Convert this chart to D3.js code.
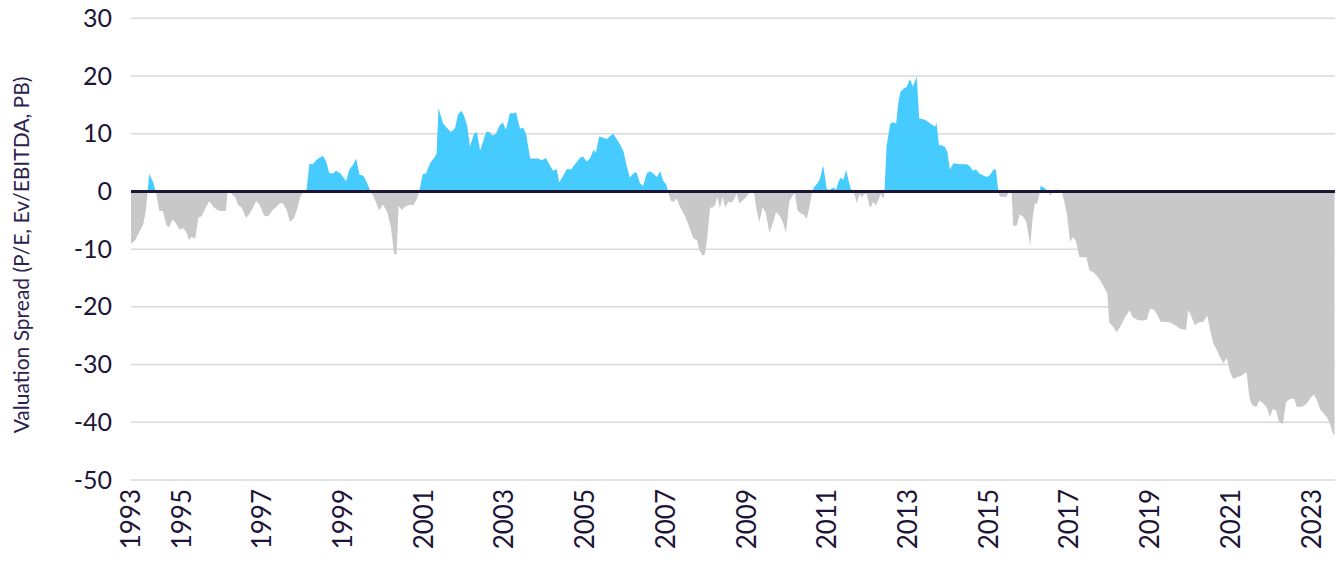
<!DOCTYPE html>
<html><head><meta charset="utf-8">
<script src="https://cdn.jsdelivr.net/npm/d3@7"></script>
<style>body{margin:0;background:#fff;}svg{display:block;}</style>
</head><body>
<svg id="chart" width="1344" height="563"></svg>
<script>
// Decimal years of each observation
const dates = [
1993.75,1993.85,1993.97,1994.05,1994.12,1994.20,1994.30,1994.37,1994.45,1994.54,1994.63,1994.70,1994.77,1994.84,1994.95,
1995.05,1995.13,1995.19,1995.25,1995.34,1995.42,1995.50,1995.61,1995.69,1995.79,1995.91,1996.00,1996.10,1996.14,1996.19,
1996.25,1996.33,1996.41,1996.49,1996.60,1996.70,1996.85,1996.93,1997.05,1997.15,1997.26,1997.34,1997.44,1997.52,1997.61,
1997.69,1997.79,1997.87,1997.94,1998.02,1998.10,1998.17,1998.25,1998.35,1998.50,1998.58,1998.66,1998.75,1998.83,1998.93,
1999.08,1999.16,1999.24,1999.33,1999.41,1999.51,1999.59,1999.69,1999.77,1999.90,1999.99,2000.10,2000.19,2000.27,2000.33,
2000.38,2000.46,2000.54,2000.66,2000.75,2000.83,2000.89,2000.98,2001.06,2001.16,2001.28,2001.32,2001.37,2001.48,2001.58,
2001.68,2001.78,2001.85,2001.93,2002.00,2002.08,2002.15,2002.25,2002.32,2002.40,2002.55,2002.63,2002.71,2002.79,2002.88,
2002.96,2003.04,2003.14,2003.21,2003.29,2003.39,2003.47,2003.54,2003.64,2003.72,2003.84,2003.93,2004.03,2004.13,2004.21,
2004.30,2004.36,2004.45,2004.55,2004.65,2004.75,2004.88,2004.96,2005.04,2005.12,2005.21,2005.27,2005.35,2005.45,2005.54,
2005.64,2005.70,2005.79,2005.87,2005.95,2006.03,2006.11,2006.21,2006.28,2006.36,2006.44,2006.53,2006.61,2006.69,2006.78,
2006.86,2006.94,2007.01,2007.06,2007.12,2007.20,2007.27,2007.35,2007.48,2007.58,2007.68,2007.77,2007.83,2007.92,2007.97,
2008.03,2008.10,2008.16,2008.22,2008.28,2008.34,2008.41,2008.47,2008.55,2008.63,2008.69,2008.76,2008.82,2008.92,2009.02,
2009.07,2009.19,2009.25,2009.32,2009.40,2009.48,2009.57,2009.65,2009.73,2009.81,2009.90,2009.98,2010.06,2010.12,2010.20,
2010.26,2010.34,2010.43,2010.49,2010.56,2010.62,2010.67,2010.76,2010.82,2010.90,2010.95,2010.99,2011.07,2011.15,2011.22,
2011.28,2011.34,2011.40,2011.47,2011.52,2011.58,2011.63,2011.69,2011.73,2011.80,2011.86,2011.91,2011.98,2012.04,2012.08,
2012.14,2012.21,2012.27,2012.33,2012.39,2012.42,2012.47,2012.56,2012.62,2012.71,2012.76,2012.81,2012.89,2012.97,2013.05,
2013.12,2013.18,2013.22,2013.28,2013.34,2013.42,2013.51,2013.59,2013.67,2013.71,2013.77,2013.84,2013.92,2013.98,2014.04,
2014.13,2014.21,2014.29,2014.38,2014.46,2014.54,2014.61,2014.69,2014.77,2014.86,2014.95,2015.03,2015.12,2015.18,2015.24,
2015.28,2015.45,2015.49,2015.53,2015.57,2015.61,2015.70,2015.77,2015.85,2015.94,2016.03,2016.09,2016.15,2016.20,2016.26,
2016.29,2016.40,2016.48,2016.52,2016.59,2016.64,2016.73,2016.81,2016.87,2016.94,2017.02,2017.08,2017.16,2017.25,2017.35,
2017.42,2017.50,2017.59,2017.68,2017.76,2017.86,2017.94,2017.99,2018.09,2018.17,2018.26,2018.38,2018.49,2018.57,2018.67,
2018.79,2018.92,2019.00,2019.10,2019.18,2019.26,2019.37,2019.49,2019.62,2019.74,2019.89,2019.95,2020.03,2020.11,2020.20,
2020.32,2020.42,2020.49,2020.57,2020.65,2020.73,2020.82,2020.90,2020.98,2021.06,2021.16,2021.27,2021.39,2021.46,2021.52,
2021.63,2021.71,2021.81,2021.89,2021.97,2022.04,2022.12,2022.20,2022.29,2022.37,2022.47,2022.57,2022.63,2022.76,2022.88,
2022.96,2023.05,2023.13,2023.21,2023.29,2023.38,2023.46,2023.53,2023.57
];
// Valuation spread values
const spread = [
-9.1,-8.5,-6.8,-5.8,-3.3,3.0,1.6,-0.2,-3.4,-3.4,-5.9,-6.2,-4.9,-5.3,-6.6,
-6.4,-7.2,-8.4,-7.8,-8.2,-4.5,-4.3,-2.7,-1.7,-2.7,-3.3,-3.4,-3.4,-0.3,0.4,
-0.5,-1.0,-2.4,-2.8,-4.6,-3.8,-1.7,-2.2,-4.2,-4.3,-3.2,-2.8,-2.0,-2.1,-3.3,
-5.3,-4.6,-3.0,-1.0,-0.1,0.3,4.8,4.7,5.5,6.2,5.3,3.2,3.1,3.6,3.2,
1.8,3.8,4.5,5.7,2.9,2.7,1.6,0,-1.0,-3.3,-2.2,-3.6,-6.2,-10.9,-10.9,
-2.5,-3.2,-2.6,-2.3,-2.4,-1.3,0,3.0,3.1,4.9,6.0,6.5,14.4,11.8,11.0,
10.3,11.0,13.3,14.0,13.2,11.4,7.8,10.0,10.3,7.1,10.3,10.3,9.7,10.0,11.4,
12.0,10.7,13.6,13.5,13.7,10.9,11.0,10.0,5.7,5.7,5.7,5.4,5.8,4.5,3.6,
3.9,1.6,2.6,3.9,3.8,4.7,5.9,6.0,5.2,5.7,7.2,6.8,9.5,9.3,9.1,
9.7,10.0,9.0,8.1,7.0,4.5,2.4,3.2,3.3,1.4,1.0,3.1,3.5,3.1,2.5,
3.5,1.8,1.2,0,-1.6,-1.8,-1.2,-2.6,-4.3,-6.1,-8.1,-8.4,-10.1,-11.2,-10.8,
-7.9,-2.8,-2.8,-2.4,-0.9,-2.9,-0.9,-2.8,-1.8,-1.9,-1.4,-0.3,-2.1,-1.5,-0.8,
-0.2,-0.3,-3.2,-5.3,-2.7,-3.8,-7.2,-5.6,-3.6,-4.1,-5.3,-7.2,-1.8,-0.9,-0.3,
-3.2,-3.8,-4.1,-4.8,-2.7,-0.3,0.7,1.4,2.2,4.5,2.3,0.4,0.3,0.7,0.3,
1.7,2.4,2.0,3.7,2.2,0.5,0,-0.8,-2.0,-0.4,-1.0,-0.5,-0.4,-2.4,-2.8,
-1.8,-2.4,-1.4,-0.4,-1.3,0,7.7,11.7,12.0,11.8,15.2,17.2,17.8,18.1,19.5,
18.2,19.2,19.9,12.6,12.6,12.4,12.0,11.6,11.2,11.8,8.0,8.0,7.7,6.8,3.8,
4.9,4.8,4.7,4.7,4.7,4.3,3.6,3.8,3.1,2.8,2.5,2.8,3.8,3.8,0,
-0.9,-0.9,0,0.4,-0.4,-6.0,-5.9,-4.0,-4.3,-5.4,-9.5,-4.7,-2.0,-2.2,-0.4,
1.0,0.5,0,-0.7,-0.2,0.3,0.3,0,-1.6,-3.9,-8.8,-7.9,-8.5,-11.4,-11.4,
-11.4,-13.7,-14.0,-14.6,-15.4,-16.6,-17.7,-22.7,-23.5,-24.4,-23.5,-21.8,-20.6,-21.8,-22.2,
-22.4,-22.2,-20.3,-20.5,-21.4,-22.6,-22.6,-22.7,-23.2,-23.8,-24.0,-20.5,-21.8,-23.2,-22.7,
-22.6,-21.5,-24.1,-26.4,-27.4,-28.7,-29.8,-28.8,-31.3,-32.5,-32.2,-31.9,-31.3,-35.6,-36.9,
-37.4,-36.2,-36.8,-37.4,-39.1,-37.7,-37.9,-40.0,-40.3,-36.5,-35.9,-35.9,-37.3,-37.3,-36.8,
-35.9,-35.2,-36.0,-37.7,-38.4,-39.1,-40.3,-41.9,-42.3
];
const yTicks = [30, 20, 10, 0, -10, -20, -30, -40, -50];
const xTickYears = [1993,1995,1997,1999,2001,2003,2005,2007,2009,2011,2013,2015,2017,2019,2021,2023];
const yTitle = "Valuation Spread (P/E, Ev/EBITDA, PB)";

const data = dates.map((t, i) => ({t, v: spread[i]}));
const svg = d3.select("#chart");
const ink = "#1d1538";
const font = "Lato, 'Open Sans', sans-serif";

const x = d3.scaleLinear().domain([dates[0], dates[dates.length-1]]).range([131, 1334.5]);
const y = d3.scaleLinear().domain([-50, 30]).range([480, 18.3]);

// gridlines
svg.append("g").selectAll("line").data(yTicks.filter(d => d !== 0)).join("line")
  .attr("x1", 131).attr("x2", 1335)
  .attr("y1", d => y(d)).attr("y2", d => y(d))
  .attr("stroke", "#d9d9d9").attr("stroke-width", 1.5);

const defs = svg.append("defs");
defs.append("clipPath").attr("id", "pos").append("rect")
  .attr("x", 0).attr("y", 0).attr("width", 1344).attr("height", y(0));
defs.append("clipPath").attr("id", "neg").append("rect")
  .attr("x", 0).attr("y", y(0)).attr("width", 1344).attr("height", 563 - y(0));

const area = d3.area().x(d => x(d.t)).y0(y(0)).y1(d => y(d.v));
svg.append("path").datum(data).attr("d", area).attr("fill", "#46cbff").attr("clip-path", "url(#pos)");
svg.append("path").datum(data).attr("d", area).attr("fill", "#c8c8c8").attr("clip-path", "url(#neg)");

// zero line
svg.append("line").attr("x1", 131).attr("x2", 1335).attr("y1", y(0)).attr("y2", y(0))
  .attr("stroke", ink).attr("stroke-width", 3);

// y axis labels
const yAxis = d3.axisLeft(y).tickValues(yTicks).tickSize(0).tickPadding(0).tickFormat(d => String(d));
const gy = svg.append("g").attr("transform", "translate(112,0)").call(yAxis);
gy.select(".domain").remove();
gy.selectAll("text").attr("font-family", font).attr("font-size", 25).attr("fill", ink);

// x axis labels (rotated)
const xPos = yr => x(Math.max(yr, dates[0]));
const gx = svg.append("g");
gx.selectAll("text").data(xTickYears).join("text")
  .attr("transform", d => `translate(${xPos(d)},489) rotate(-90)`)
  .attr("text-anchor", "end").attr("dy", "0.35em")
  .attr("font-family", font).attr("font-size", 26).attr("fill", ink)
  .text(d => d);

// y title
svg.append("text").attr("transform", "translate(22,255) rotate(-90)")
  .attr("text-anchor", "middle").attr("dy", "0.35em")
  .attr("font-family", font).attr("font-size", 21).attr("fill", "#2b2250")
  .text(yTitle);
</script>
</body></html>
